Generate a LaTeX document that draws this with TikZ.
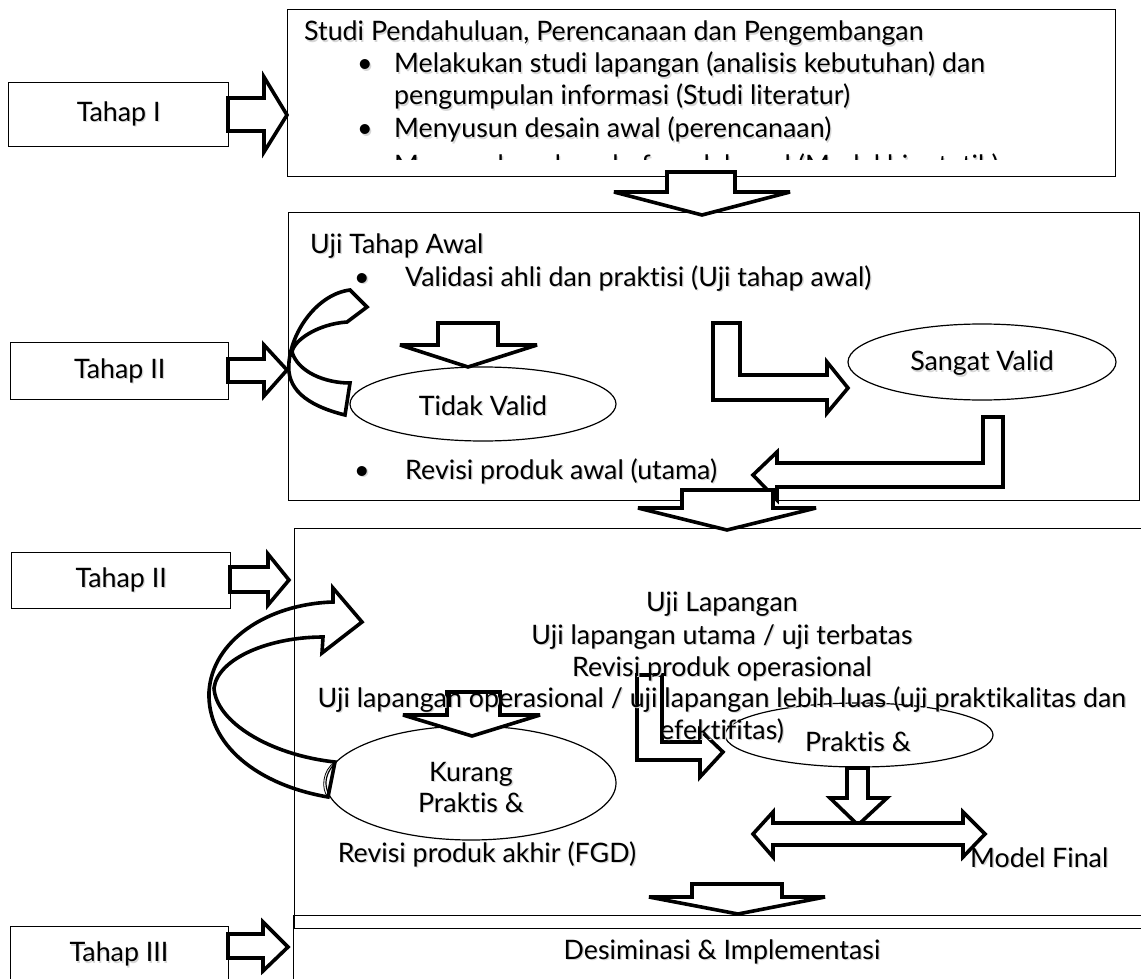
\documentclass[tikz,border=0pt]{standalone}
\usepackage{fontspec}
\setmainfont{Lato}[Ligatures={NoCommon}]
\usetikzlibrary{shapes.geometric}
\newcommand\shtx[1]{\makebox[0pt][l]{\raisebox{-1.3pt}{\hspace{1.3pt}\textcolor{black!16}{#1}}}#1}
\begin{document}
\begin{tikzpicture}[x=1pt,y=-1pt,
  box/.style={draw, line width=1.3pt},
  barrow/.style={draw, fill=white, line width=3.6pt, line join=miter, miter limit=4},
  carrow/.style={draw, line width=3.6pt, line join=miter},
  oval/.style={draw, ellipse, line width=1.2pt, inner sep=0pt},
  txt/.style={font=\fontsize{26.8}{31}\selectfont, inner sep=0pt},
  tbox/.style={box, anchor=north west}]
\useasboundingbox (0,0) rectangle (1141,979);
\fill[white] (0,0) rectangle (1141,979);

% ---------- boxes ----------
\node[box, anchor=north west, minimum width=828pt, minimum height=167pt] (b1) at (287,9) {};
\node[box, anchor=north west, minimum width=851pt, minimum height=288pt] (b2) at (288,212) {};
\node[box, anchor=north west, minimum width=860pt, minimum height=400pt] (b3) at (294,528) {};
\node[box, anchor=north west, minimum width=860pt, minimum height=80pt] (b4) at (293,915) {};

\node[tbox, minimum width=220pt, minimum height=64pt] (t1) at (8,82) {};
\node[txt] (t1l) at (t1.center) {\shtx{Tahap I}};
\node[tbox, minimum width=218pt, minimum height=57pt] (t2) at (10,342) {};
\node[txt] (t2l) at (t2.center) {\shtx{Tahap II}};
\node[tbox, minimum width=219pt, minimum height=56pt] (t3) at (11,552) {};
\node[txt] (t3l) at (t3.center) {\shtx{Tahap II}};
\node[tbox, minimum width=218pt, minimum height=60pt] (t4) at (10,926) {};
\node[txt] (t4l) at (119,955) {\shtx{Tahap III}};

% ---------- block arrows Tahap -> box ----------
\draw[barrow] (228,98) -- (264,98) -- (264,77) -- (287,115) -- (264,152) -- (264,131) -- (228,131) -- cycle;
\draw[barrow] (228,359) -- (264,359) -- (264,345) -- (287,370) -- (264,396) -- (264,382) -- (228,382) -- cycle;
\draw[barrow] (230,567) -- (268,567) -- (268,554) -- (289,580) -- (268,605) -- (268,592) -- (230,592) -- cycle;
\draw[barrow] (228,934) -- (263,934) -- (263,922) -- (288,947) -- (263,971) -- (263,958) -- (228,958) -- cycle;

% ---------- box 1 text ----------
\node[txt, anchor=base west] (s1) at (304,41) {\shtx{Studi Pendahuluan, Perencanaan dan Pengembangan}};
\node[txt, anchor=base] (s1b1) at (365,73) {\shtx{•}};
\node[txt, anchor=base west] (s1l1) at (394,73) {\shtx{Melakukan studi lapangan (analisis kebutuhan) dan}};
\node[txt, anchor=base west] (s1l2) at (394,105) {\shtx{pengumpulan informasi (Studi literatur)}};
\node[txt, anchor=base] (s1b2) at (365,138) {\shtx{•}};
\node[txt, anchor=base west] (s1l3) at (394,138) {\shtx{Menyusun desain awal (perencanaan)}};
\begin{scope}
  \clip (287,9) rectangle (1115,160);
  \node[txt, anchor=base] (s1b3) at (365,175) {\shtx{•}};
  \node[txt, anchor=base west] (s1l4) at (394,175) {\shtx{Mengembangkan draf model awal (Model hipotetik)}};
\end{scope}

% down arrow box1 -> box2
\draw[barrow] (667,172) -- (735,172) -- (735,192) -- (790,192) -- (702,215) -- (614,192) -- (667,192) -- cycle;

% ---------- box 2 ----------
\node[txt, anchor=base west] (s2) at (310,253) {\shtx{Uji Tahap Awal}};
\node[txt, anchor=base] (s2b1) at (362,286) {\shtx{•}};
\node[txt, anchor=base west] (s2l1) at (405,286) {\shtx{Validasi ahli dan praktisi (Uji tahap awal)}};
\node[txt, anchor=base] (s2b2) at (362,479) {\shtx{•}};
\node[txt, anchor=base west] (s2l2) at (405,479) {\shtx{Revisi produk awal (utama)}};

\node[oval, minimum width=266pt, minimum height=74pt] (tv) at (483,404) {};
\node[txt] (tvl) at (483,406) {\shtx{Tidak Valid}};
\node[oval, minimum width=268pt, minimum height=76pt] (sv) at (982,362) {};
\node[txt] (svl) at (982,364) {\shtx{Sangat Valid}};

% curved arrow (crescent)
\draw[carrow] (345,415) .. controls (305,405) and (286,388) .. (289,362)
   .. controls (292,330) and (318,294) .. (350,290) -- (367,307) -- (347,322)
   .. controls (318,324) and (294,340) .. (292,352)
   .. controls (298,372) and (325,383) .. (350,383) -- cycle;

% down arrow to Tidak Valid
\draw[barrow] (438,323) -- (498,323) -- (498,345) -- (537,345) -- (468,367) -- (400,345) -- (438,345) -- cycle;
% L arrow to Sangat Valid
\draw[barrow] (713,323) -- (740,323) -- (740,375) -- (827,375) -- (827,362) -- (848,388) -- (827,413) -- (827,400) -- (713,400) -- cycle;
% L arrow back
\draw[barrow] (983,417) -- (1003,417) -- (1003,487) -- (777,487) -- (777,500) -- (753,475) -- (777,452) -- (777,463) -- (983,463) -- cycle;

% down arrow box2 -> box3
\draw[barrow] (682,490) -- (773,490) -- (773,508) -- (816,508) -- (727,530) -- (638,508) -- (682,508) -- cycle;

% ---------- box 3 ----------
\node[oval, minimum width=290pt, minimum height=114pt] (kp) at (471,783) {};
\node[txt, align=center] (kpl) at (471,788) {\shtx{Kurang}\\\shtx{Praktis \&}};
\node[oval, minimum width=268pt, minimum height=64pt] (pr) at (859,735) {};
\node[txt] (prl) at (858,742) {\shtx{Praktis \&}};

% big curved arrow
\draw[carrow] (328,797) .. controls (258,785) and (207,745) .. (209,692)
   .. controls (212,640) and (268,604) .. (333,602) -- (333,588) -- (362,622) -- (322,653) -- (323,637)
   .. controls (270,637) and (218,658) .. (214,688)
   .. controls (216,722) and (270,755) .. (335,762) -- cycle;
\draw[line width=0.8pt] (335,762) .. controls (322,770) and (321,790) .. (328,797);

% down arrow into Kurang
\draw[barrow] (447,692) -- (500,692) -- (500,715) -- (540,715) -- (472,736) -- (403,715) -- (447,715) -- cycle;
% L arrow to Praktis
\draw[barrow] (637,675) -- (662,675) -- (662,742) -- (700,742) -- (700,730) -- (723,752) -- (700,777) -- (700,760) -- (637,760) -- cycle;
% down arrow from Praktis
\draw[barrow] (847,768) -- (868,768) -- (868,798) -- (887,798) -- (858,825) -- (830,798) -- (847,798) -- cycle;
% double arrow
\draw[barrow] (753,834) -- (773,812) -- (773,823) -- (963,823) -- (963,812) -- (985,834) -- (963,857) -- (963,845) -- (773,845) -- (773,857) -- cycle;

\node[txt, anchor=base] (u1) at (722,611) {\shtx{Uji Lapangan}};
\node[txt, anchor=base] (u2) at (722,644) {\shtx{Uji lapangan utama / uji terbatas}};
\node[txt, anchor=base] (u3) at (722,676) {\shtx{Revisi produk operasional}};
\node[txt, anchor=base] (u4) at (722,707) {\shtx{Uji lapangan operasional / uji lapangan lebih luas (uji praktikalitas dan}};
\node[txt, anchor=base] (u5) at (722,739) {\shtx{efektifitas)}};

\node[txt, anchor=base] (rpa) at (487,862) {\shtx{Revisi produk akhir (FGD)}};
\node[txt, anchor=base west] (mf) at (970,867) {\shtx{Model Final}};

% down arrow box3 -> box4
\draw[barrow] (692,884) -- (782,884) -- (782,897) -- (825,897) -- (738,914) -- (649,897) -- (692,897) -- cycle;

\node[txt, anchor=base] (di) at (722,959) {\shtx{Desiminasi \& Implementasi}};
\end{tikzpicture}
\end{document}
